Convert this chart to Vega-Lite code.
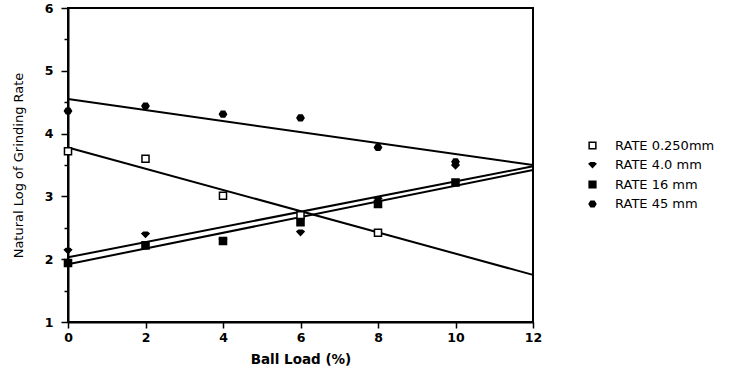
{
  "$schema": "https://vega.github.io/schema/vega-lite/v6.json",
  "width": 465,
  "height": 314,
  "autosize": {"type": "none"},
  "padding": {"left": 68, "top": 8, "right": 197, "bottom": 58},
  "background": "white",
  "config": {
    "view": {"stroke": "black", "strokeWidth": 2},
    "font": "DejaVu Sans",
    "axis": {
      "domainColor": "black", "domainWidth": 2,
      "tickColor": "black", "tickWidth": 1.5,
      "labelFont": "DejaVu Sans", "labelFontSize": 12.5, "labelFontWeight": "bold", "labelColor": "black",
      "titleFont": "DejaVu Sans", "titleFontSize": 13, "titleColor": "black",
      "grid": false
    },
    "legend": {
      "labelFont": "DejaVu Sans", "labelFontSize": 13, "labelColor": "black"
    }
  },
  "datasets": {
    "pts": [
      {"load": 0, "rate": 3.72, "series": "RATE 0.250mm"},
      {"load": 2, "rate": 3.60, "series": "RATE 0.250mm"},
      {"load": 4, "rate": 3.01, "series": "RATE 0.250mm"},
      {"load": 6, "rate": 2.70, "series": "RATE 0.250mm"},
      {"load": 8, "rate": 2.42, "series": "RATE 0.250mm"},
      {"load": 0, "rate": 2.13, "series": "RATE 4.0 mm"},
      {"load": 2, "rate": 2.39, "series": "RATE 4.0 mm"},
      {"load": 4, "rate": 2.30, "series": "RATE 4.0 mm"},
      {"load": 6, "rate": 2.42, "series": "RATE 4.0 mm"},
      {"load": 8, "rate": 2.95, "series": "RATE 4.0 mm"},
      {"load": 10, "rate": 3.48, "series": "RATE 4.0 mm"},
      {"load": 0, "rate": 1.94, "series": "RATE 16 mm"},
      {"load": 2, "rate": 2.22, "series": "RATE 16 mm"},
      {"load": 4, "rate": 2.29, "series": "RATE 16 mm"},
      {"load": 6, "rate": 2.59, "series": "RATE 16 mm"},
      {"load": 8, "rate": 2.88, "series": "RATE 16 mm"},
      {"load": 10, "rate": 3.22, "series": "RATE 16 mm"},
      {"load": 0, "rate": 4.36, "series": "RATE 45 mm"},
      {"load": 2, "rate": 4.44, "series": "RATE 45 mm"},
      {"load": 4, "rate": 4.31, "series": "RATE 45 mm"},
      {"load": 6, "rate": 4.25, "series": "RATE 45 mm"},
      {"load": 8, "rate": 3.78, "series": "RATE 45 mm"},
      {"load": 10, "rate": 3.55, "series": "RATE 45 mm"}
    ],
    "fits": [
      {"load": 0, "rate": 3.78, "series": "RATE 0.250mm"},
      {"load": 12, "rate": 1.75, "series": "RATE 0.250mm"},
      {"load": 0, "rate": 2.03, "series": "RATE 4.0 mm"},
      {"load": 12, "rate": 3.48, "series": "RATE 4.0 mm"},
      {"load": 0, "rate": 1.92, "series": "RATE 16 mm"},
      {"load": 12, "rate": 3.42, "series": "RATE 16 mm"},
      {"load": 0, "rate": 4.55, "series": "RATE 45 mm"},
      {"load": 12, "rate": 3.50, "series": "RATE 45 mm"}
    ]
  },
  "encoding": {
    "x": {
      "field": "load", "type": "quantitative",
      "scale": {"domain": [0, 12], "nice": false, "zero": false},
      "axis": {
        "title": "Ball Load (%)", "titleFontWeight": "bold", "titleFontSize": 13.5, "titlePadding": 9,
        "values": [0, 2, 4, 6, 8, 10, 12], "tickSize": 6, "labelPadding": 3, "labelFlush": false
      }
    },
    "y": {
      "field": "rate", "type": "quantitative",
      "scale": {"domain": [1, 6], "nice": false, "zero": false},
      "axis": {
        "title": "Natural Log of Grinding Rate", "titleFontWeight": "normal", "titlePadding": 19,
        "values": [1, 1.5, 2, 2.5, 3, 3.5, 4, 4.5, 5, 5.5, 6],
        "labelExpr": "datum.value % 1 === 0 ? format(datum.value, 'd') : ''",
        "tickSize": {"condition": {"test": "datum.value % 1 === 0", "value": 7}, "value": 4},
        "labelPadding": 8, "labelFlush": false
      }
    }
  },
  "layer": [
    {
      "data": {"name": "fits"},
      "mark": {"type": "line", "stroke": "black", "strokeWidth": 2},
      "encoding": {"detail": {"field": "series"}}
    },
    {
      "data": {"name": "pts"},
      "mark": {"type": "point", "strokeWidth": 1.5, "opacity": 1, "filled": false},
      "encoding": {
        "shape": {
          "field": "series", "type": "nominal",
          "scale": {
            "domain": ["RATE 0.250mm", "RATE 4.0 mm", "RATE 16 mm", "RATE 45 mm"],
            "range": ["square", "M-1,-0.35 L-0.55,-0.7 L0.55,-0.7 L1,-0.35 L0,0.7 Z", "square", "M-1,0 L-0.5,-0.8 L0.5,-0.8 L1,0 L0.5,0.8 L-0.5,0.8 Z"]
          },
          "legend": {
            "title": null, "orient": "none", "legendX": 518, "legendY": 131,
            "padding": 0, "labelOffset": 16, "rowPadding": 5.5, "symbolSize": 45,
            "symbolStrokeWidth": 1.5
          }
        },
        "fill": {
          "field": "series", "type": "nominal",
          "scale": {
            "domain": ["RATE 0.250mm", "RATE 4.0 mm", "RATE 16 mm", "RATE 45 mm"],
            "range": ["white", "black", "black", "black"]
          },
          "legend": {
            "title": null, "orient": "none", "legendX": 518, "legendY": 131,
            "padding": 0, "labelOffset": 16, "rowPadding": 5.5, "symbolSize": 45,
            "symbolStrokeWidth": 1.5
          }
        },
        "stroke": {"value": "black"},
        "size": {"value": 50}
      }
    }
  ]
}
